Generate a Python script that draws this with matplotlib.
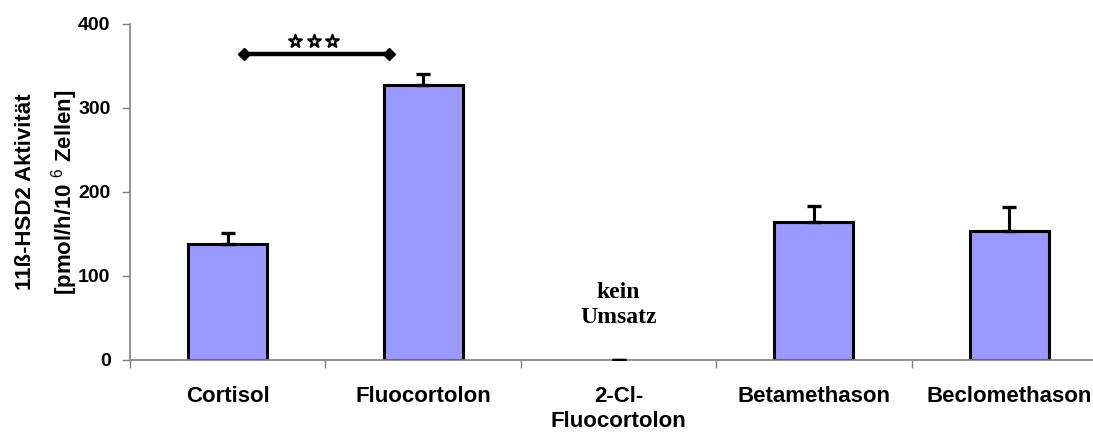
import matplotlib
matplotlib.use("Agg")
import matplotlib.pyplot as plt
import numpy as np

categories = ["Cortisol", "Fluocortolon", "2-Cl-\nFluocortolon", "Betamethason", "Beclomethason"]
values = [138, 326.5, 0, 164, 154]
errors = [13, 13.5, 0, 19, 28.5]
yticks = [0, 100, 200, 300, 400]

# significance annotation (between Cortisol and Fluocortolon)
sig_x = [0.082, 0.824]
sig_y = 364
star_x = [0.346, 0.44, 0.536]
star_y = 379

plt.rcParams['font.family'] = ['Liberation Sans', 'DejaVu Sans']
plt.rcParams['mathtext.fontset'] = 'custom'
plt.rcParams['mathtext.rm'] = 'Liberation Sans'
plt.rcParams['mathtext.it'] = 'Liberation Sans'
plt.rcParams['mathtext.bf'] = 'Liberation Sans:bold'

fig = plt.figure(figsize=(10.93, 4.33), dpi=100)
ax = fig.add_axes([130/1093, 1-360/433, (1107-130)/1093, (360-23.7)/433])

x = np.arange(len(categories))
vals = np.array(values, dtype=float)
mask = vals > 0
ax.bar(x[mask], vals[mask], width=0.404, color="#9999FF", edgecolor="black", linewidth=2.2, zorder=2)
ax.errorbar(x, vals, yerr=[np.zeros(len(errors)), errors], fmt='none', ecolor='black',
            elinewidth=2.2, capsize=5, capthick=2.4, zorder=3)

ax.set_xlim(-0.5, len(categories) - 0.5)
ax.set_ylim(0, 400)
ax.set_yticks(yticks)
ax.set_yticklabels([str(t) for t in yticks], fontsize=14, fontweight='bold')
ax.set_xticks(np.arange(len(categories) + 1) - 0.5, minor=False)
ax.set_xticklabels([])
ax.set_xticks(x, minor=True)
ax.set_xticklabels(categories, minor=True, fontsize=16, fontweight='bold', linespacing=1.2)
ax.tick_params(axis='x', which='minor', length=0, pad=19)
ax.tick_params(axis='x', which='major', length=6, width=1, color='#808080', direction='out')
ax.tick_params(axis='y', length=6, width=1, color='#808080', direction='out', pad=8)

for s in ['top', 'right']:
    ax.spines[s].set_visible(False)
for s in ['left', 'bottom']:
    ax.spines[s].set_color('#808080')
    ax.spines[s].set_linewidth(1.2)

ax.set_ylabel("11\u00df-HSD2 Aktivit\u00e4t\n[pmol/h/10 $^{6}$ Zellen]", fontsize=16,
              fontweight='bold', linespacing=1.55, labelpad=-1)

# significance bar
ax.plot(sig_x, [sig_y, sig_y], color='black', linewidth=3.2, marker='D', markersize=6,
        clip_on=False, zorder=4)
ax.scatter(star_x, [star_y] * len(star_x), marker='*', s=90, facecolor='white',
           edgecolor='black', linewidths=1.6, zorder=4, clip_on=False)

ax.text(2, 65.5, "kein\nUmsatz", ha='center', va='center', fontsize=17, fontweight='bold',
        family='Liberation Serif', linespacing=1.3)

fig.savefig("out.png", dpi=100)
